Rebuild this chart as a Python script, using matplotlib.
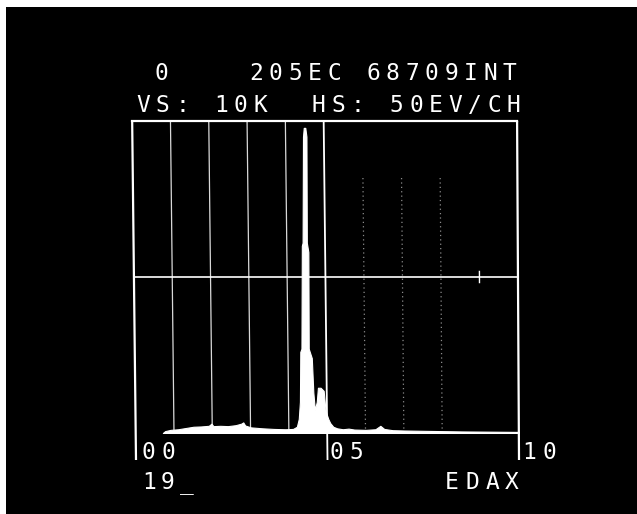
import matplotlib
matplotlib.use("Agg")
import matplotlib.pyplot as plt
from matplotlib.patches import Rectangle

# ---------------- data ----------------
energy_kev = [0.70, 0.76, 0.90, 1.10, 1.30, 1.50, 1.70, 1.90, 1.97, 2.02, 2.20, 2.40,
              2.60, 2.75, 2.80, 2.85, 3.00, 3.30, 3.60, 3.90, 4.10, 4.20, 4.25, 4.28,
              4.29, 4.32, 4.33, 4.35, 4.36, 4.38, 4.42, 4.45, 4.46, 4.50, 4.51, 4.59,
              4.63, 4.67, 4.72, 4.75, 4.82, 4.90, 4.95, 5.02, 5.07, 5.15, 5.25,
              5.40, 5.55, 5.70, 6.00, 6.25, 6.38, 6.48, 6.70, 7.00, 7.50, 8.00, 8.50,
              9.00, 9.50, 10.00]
counts = [0, 60, 100, 120, 160, 200, 210, 230, 300, 220, 230, 220,
          250, 300, 340, 240, 180, 150, 130, 120, 130, 200, 450, 1000,
          2600, 2700, 6000, 6100, 9500, 9780, 9780, 9500, 6100, 5800, 2700, 2400,
          1300, 740, 1000, 1450, 1450, 1350, 700, 450, 320, 200, 150,
          120, 140, 110, 100, 120, 230, 130, 90, 80, 70, 60, 50,
          45, 40, 35]

x_range_kev = [0, 10]
full_scale = 10000
solid_grid_kev = [1, 2, 3, 4]
dotted_grid_kev = [6, 7, 8]
cross_tick_kev = [9]
axis_marks_kev = [0, 5, 10]

header_left = "0"
header_right = "205EC 68709INT"
scale_line = "VS: 10K  HS: 50EV/CH"
axis_labels = ["00", "05", "10"]
footer_left = "19_"
footer_right = "EDAX"

# ---------------- figure ----------------
W, H = 637, 514
fig = plt.figure(figsize=(W / 100, H / 100), dpi=100, facecolor="white")
fig.patches.append(Rectangle((6 / W, 0), 1 - 6 / W, 1 - 7 / H, transform=fig.transFigure,
                             facecolor="black", edgecolor="none", zorder=-10))

x0, x1, ytop, ybase = 136, 519, 121, 433
ax = fig.add_axes([x0 / W, 1 - ybase / H, (x1 - x0) / W, (ybase - ytop) / H])
ax.set_xlim(*x_range_kev)
ax.set_ylim(0, full_scale)
ax.axis("off")

below = -(460 - ybase) / (ybase - ytop) * full_scale


def tilt(e):
    # CRT screen distortion: vertical lines lean slightly left towards the top
    return 0.1 if e <= 5 else 0.1 - 0.01 * (e - 5)


def vline(e, y_lo, y_hi, **kw):
    frac = lambda y: (y - below) / (full_scale - below)
    ax.plot([e - tilt(e) * frac(y_lo), e - tilt(e) * frac(y_hi)], [y_lo, y_hi],
            color="white", clip_on=False, solid_capstyle="butt", **kw)


# spectrum
ax.fill_between(energy_kev, 0, counts, color="white", lw=0.8, edgecolor="white", zorder=3)

# frame
ax.plot([x_range_kev[0] - tilt(0), x_range_kev[1] - tilt(10)], [full_scale, full_scale],
        color="white", lw=1.6, clip_on=False)
for e in axis_marks_kev:
    vline(e, below, full_scale, lw=1.6 if e != 5 else 1.3)
mid_frac = (full_scale / 2 - below) / (full_scale - below)
ax.plot([x_range_kev[0] - tilt(0) * mid_frac, x_range_kev[1] - tilt(10) * mid_frac],
        [full_scale / 2, full_scale / 2], color="white", lw=1.2, clip_on=False)

for e in solid_grid_kev:
    vline(e, 0, full_scale, lw=0.9, alpha=0.85)
for e in dotted_grid_kev:
    vline(e, 0, full_scale * 0.82, lw=0.9, alpha=0.55, linestyle=(0, (1, 2.5)))
for e in cross_tick_kev:
    vline(e, full_scale / 2 - 200, full_scale / 2 + 200, lw=1.0)

# ---------------- text (dot-matrix style, fixed pitch) ----------------
PITCH = 19.5
FONT = dict(family="DejaVu Sans Mono", size=16.5, color="white")


def put(s, cx_first, baseline_y, pitch=PITCH):
    for i, ch in enumerate(s):
        if ch == " ":
            continue
        fig.text((cx_first + i * pitch) / W, 1 - baseline_y / H, ch,
                 ha="center", va="baseline", **FONT)


put(header_left, 161, 80.5)
put(header_right, 256, 80.5)
put(scale_line, 143, 111.5)
put(axis_labels[0], 148, 459, 20)
put(axis_labels[1], 336, 459, 20)
put(axis_labels[2], 529, 459, 20)
put(footer_left, 149, 489, 19)
put(footer_right, 452, 489, 20)

fig.savefig("out.png", dpi=100, facecolor=fig.get_facecolor())
